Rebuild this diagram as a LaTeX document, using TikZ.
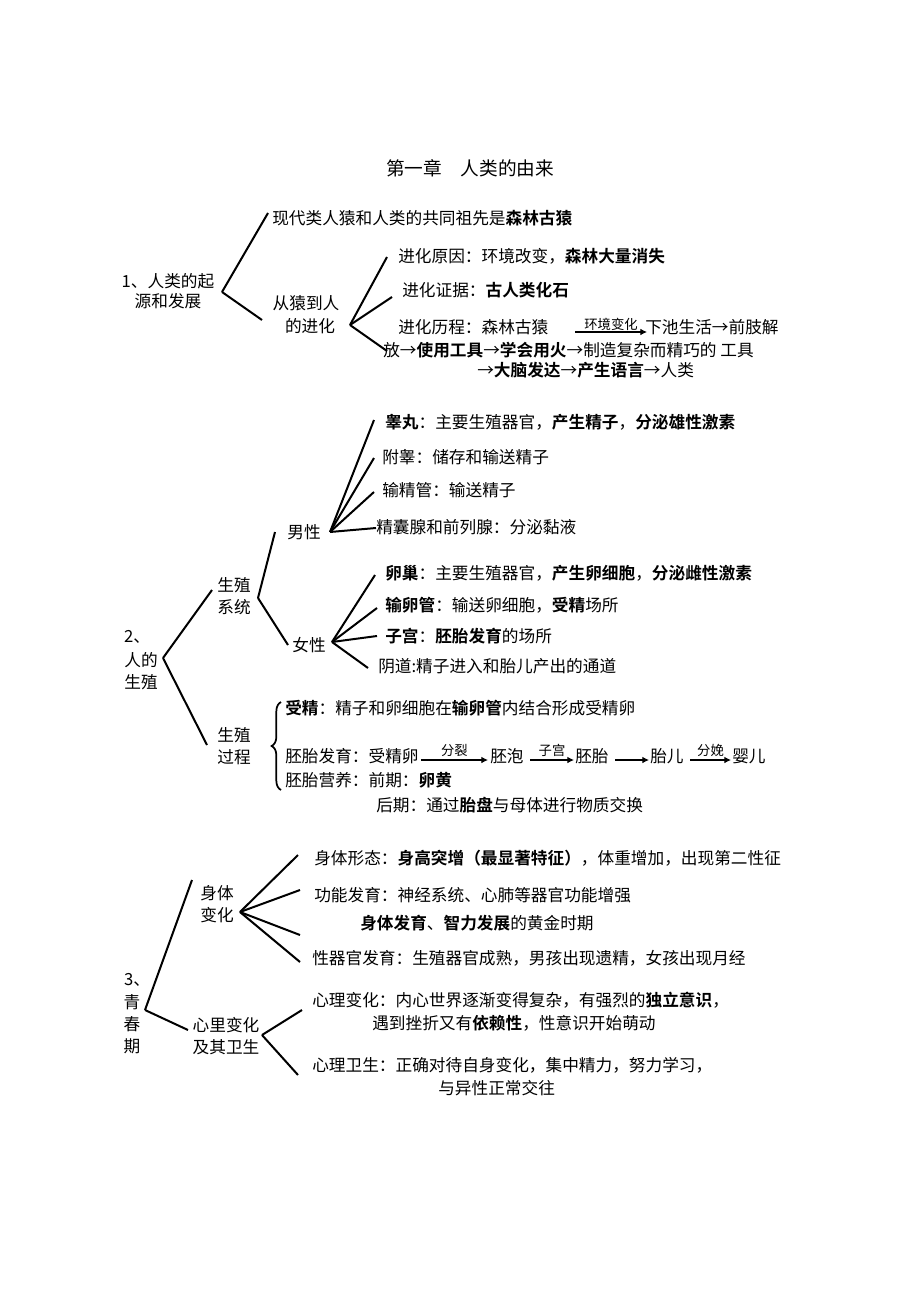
\documentclass[tikz,border=0pt]{standalone}
\usepackage{fontspec}
\setmainfont{Noto Sans CJK SC}[BoldFont={Noto Sans CJK SC Bold}]
\usetikzlibrary{arrows.meta,decorations.pathreplacing}
\newcommand{\fanLines}[2]{
  \foreach \e in {#2} {\draw[branch] #1 -- \e;}
}
\tikzset{
  txt/.style={anchor=west,inner sep=0pt,font=\fontsize{12.5}{14}\selectfont},
  lbl/.style={anchor=center,inner sep=0pt,font=\fontsize{12.5}{14}\selectfont},
  tiny/.style={anchor=center,inner sep=0pt,font=\fontsize{10}{12}\selectfont},
  branch/.style={line width=1.5pt},
  stepArrow/.style={-{Latex[length=5pt,width=5pt]},thick}
}
\begin{document}
\begin{tikzpicture}[x=0.75pt,y=-0.75pt]
  \useasboundingbox (0,0) rectangle (920,1302);
  \node[lbl,font=\fontsize{14}{16}\selectfont] (title) at (470,168) {第一章\quad 人类的由来};

  % section 1
  \node[lbl] (s1a) at (168,281) {1、人类的起};
  \node[lbl] (s1b) at (168,301) {源和发展};
  \fanLines{(222,292)}{(268,213),(262,320)}
  \node[txt] (ape) at (272,218) {现代类人猿和人类的共同祖先是\textbf{森林古猿}};
  \node[lbl] (evoA) at (306,303) {从猿到人};
  \node[lbl] (evoB) at (310,326) {的进化};
  \fanLines{(350,325)}{(387,257),(392,297),(387,351)}
  \node[txt] (cause) at (398,256) {进化原因：环境改变，\textbf{森林大量消失}};
  \node[txt] (proof) at (402,290) {进化证据：\textbf{古人类化石}};
  \node[txt] (course) at (398,327) {进化历程：森林古猿};
  \node[txt] (down) at (645,327) {下池生活→前肢解};
  \draw[stepArrow] (575,332) -- node[tiny,above=1pt] {环境变化} (647,332);
  \node[txt] (tool) at (383,350) {放→\textbf{使用工具}→\textbf{学会用火}→制造复杂而精巧的 工具};
  \node[txt] (brain) at (477,370) {→\textbf{大脑发达}→\textbf{产生语言}→人类};

  % section 2
  \node[lbl] (s2a) at (137,637) {2、};
  \node[lbl] (s2b) at (141,660) {人的};
  \node[lbl] (s2c) at (141,682) {生殖};
  \fanLines{(163,658)}{(212,590),(207,745)}
  \node[lbl] (sysA) at (234,585) {生殖};
  \node[lbl] (sysB) at (234,607) {系统};
  \fanLines{(258,598)}{(275,532),(288,645)}
  \node[lbl] (male) at (304,532) {男性};
  \node[lbl] (female) at (309,645) {女性};
  \fanLines{(330,532)}{(374,420),(374,458),(374,492),(376,528)}
  \node[txt] (testis) at (385,422) {\textbf{睾丸}：主要生殖器官，\textbf{产生精子}，\textbf{分泌雄性激素}};
  \node[txt] (epid) at (382,457) {附睾：储存和输送精子};
  \node[txt] (vas) at (382,490) {输精管：输送精子};
  \node[txt] (gland) at (376,527) {精囊腺和前列腺：分泌黏液};
  \fanLines{(332,642)}{(375,575),(377,608),(377,636),(368,668)}
  \node[txt] (ovary) at (385,573) {\textbf{卵巢}：主要生殖器官，\textbf{产生卵细胞}，\textbf{分泌雌性激素}};
  \node[txt] (tube) at (385,605) {\textbf{输卵管}：输送卵细胞，\textbf{受精}场所};
  \node[txt] (uterus) at (385,636) {\textbf{子宫}：\textbf{胚胎发育}的场所};
  \node[txt] (vagina) at (378,666) {阴道:精子进入和胎儿产出的通道};
  \node[lbl] (procA) at (234,735) {生殖};
  \node[lbl] (procB) at (234,757) {过程};
  \draw[branch,line width=1.3pt,decorate,decoration={brace,amplitude=7pt,mirror}] (281,702) -- (281,790);
  \node[txt] (fert) at (285,708) {\textbf{受精}：精子和卵细胞在\textbf{输卵管}内结合形成受精卵};
  \node[txt] (dev) at (285,756) {胚胎发育：受精卵};
  \node[txt] (bl) at (490,756) {胚泡};
  \node[txt] (emb) at (575,756) {胚胎};
  \node[txt] (fet) at (650,756) {胎儿};
  \node[txt] (baby) at (732,756) {婴儿};
  \draw[stepArrow] (dev.east) ++(2,4) -- node[tiny,above=2pt] {分裂} (488,760);
  \draw[stepArrow] (530,760) -- node[tiny,above=2pt] {子宫} (574,760);
  \draw[stepArrow] (615,760) -- (649,760);
  \draw[stepArrow] (690,760) -- node[tiny,above=2pt] {分娩} (731,760);
  \node[txt] (nutr) at (285,780) {胚胎营养：前期：\textbf{卵黄}};
  \node[txt] (late) at (376,805) {后期：通过\textbf{胎盘}与母体进行物质交换};

  % section 3
  \node[lbl] (s3a) at (137,980) {3、};
  \node[lbl] (s3b) at (132,1002) {青};
  \node[lbl] (s3c) at (132,1024) {春};
  \node[lbl] (s3d) at (132,1046) {期};
  \fanLines{(145,1010)}{(192,880),(188,1030)}
  \node[lbl] (bodyA) at (217,893) {身体};
  \node[lbl] (bodyB) at (217,915) {变化};
  \fanLines{(240,912)}{(298,855),(300,890),(300,935),(300,962)}
  \node[txt] (shape) at (314,858) {身体形态：\textbf{身高突增（最显著特征）}，体重增加，出现第二性征};
  \node[txt] (func) at (314,895) {功能发育：神经系统、心肺等器官功能增强};
  \node[txt] (gold) at (360,923) {\textbf{身体发育}、\textbf{智力发展}的黄金时期};
  \node[txt] (sex) at (312,958) {性器官发育：生殖器官成熟，男孩出现遗精，女孩出现月经};
  \node[lbl] (mindA) at (226,1025) {心里变化};
  \node[lbl] (mindB) at (226,1047) {及其卫生};
  \fanLines{(262,1035)}{(302,1010),(298,1075)}
  \node[txt] (mind) at (312,1000) {心理变化：内心世界逐渐变得复杂，有强烈的\textbf{独立意识}，};
  \node[txt] (mind2) at (372,1023) {遇到挫折又有\textbf{依赖性}，性意识开始萌动};
  \node[txt] (hyg) at (312,1065) {心理卫生：正确对待自身变化，集中精力，努力学习，};
  \node[txt] (hyg2) at (438,1088) {与异性正常交往};
\end{tikzpicture}
\end{document}
